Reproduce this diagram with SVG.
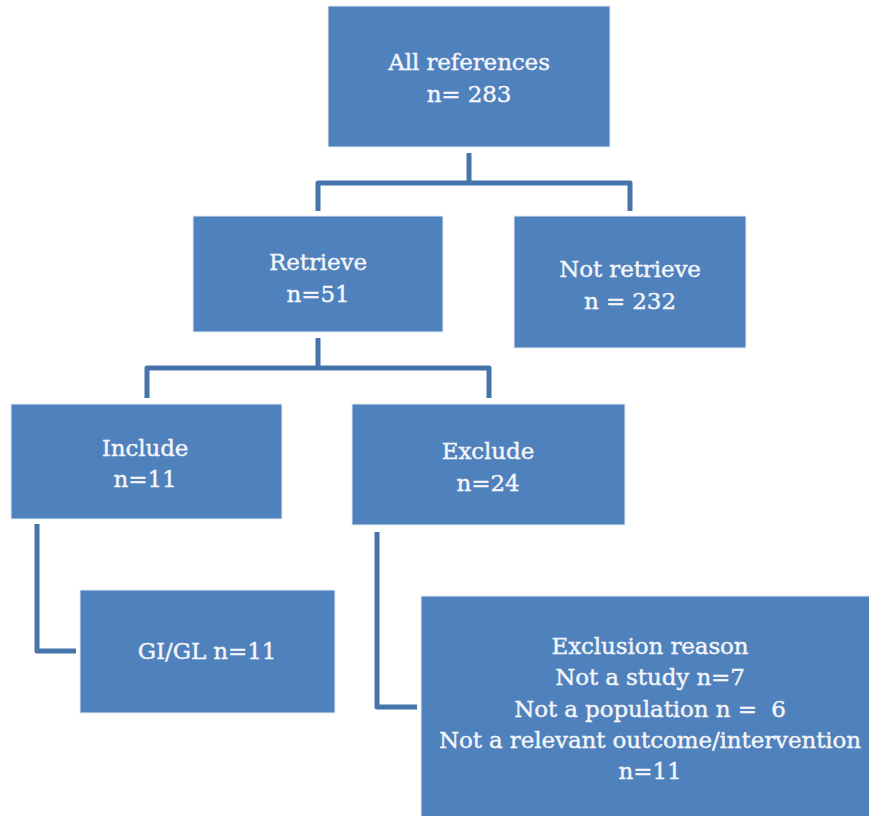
<svg xmlns="http://www.w3.org/2000/svg" width="869" height="816" viewBox="0 0 869 816">
  <style>
    .box { fill: #4F81BD; stroke: #E6EEF7; stroke-width: 1; }
    .lbl { font-family: "DejaVu Serif", "Liberation Serif", serif; font-size: 23px; fill: #F4F6FA; stroke: #F4F6FA; stroke-width: 0.4; text-anchor: middle; letter-spacing: -0.1px; }
    .wire { fill: none; stroke: #4474AA; stroke-width: 5; stroke-linejoin: round; }
  </style>
  <rect width="869" height="816" fill="#FFFFFF"/>

  <!-- connectors -->
  <g id="connectors">
    <path class="wire" d="M469,153 V183 M318,211 V183 H630 V211"/>
    <path class="wire" d="M318,338 V368 M147,398 V368 H489 V398"/>
    <path class="wire" d="M37,524 V651 H76"/>
    <path class="wire" d="M377,532 V707 H417"/>
  </g>

  <g id="all-references">
    <rect class="box" x="328" y="6" width="282" height="141"/>
    <text class="lbl" x="469" y="70">All references</text>
    <text class="lbl" x="469" y="102">n= 283</text>
  </g>

  <g id="retrieve">
    <rect class="box" x="193" y="216" width="250" height="116"/>
    <text class="lbl" x="318" y="270">Retrieve</text>
    <text class="lbl" x="318" y="302">n=51</text>
  </g>

  <g id="not-retrieve">
    <rect class="box" x="514" y="216" width="232" height="132"/>
    <text class="lbl" x="630" y="277">Not retrieve</text>
    <text class="lbl" x="630" y="309">n = 232</text>
  </g>

  <g id="include">
    <rect class="box" x="11" y="404" width="271" height="115"/>
    <text class="lbl" x="145" y="456">Include</text>
    <text class="lbl" x="145" y="487">n=11</text>
  </g>

  <g id="exclude">
    <rect class="box" x="352" y="404" width="273" height="121"/>
    <text class="lbl" x="488" y="459">Exclude</text>
    <text class="lbl" x="488" y="491">n=24</text>
  </g>

  <g id="gi-gl">
    <rect class="box" x="80" y="590" width="255" height="123"/>
    <text class="lbl" x="207" y="659">GI/GL n=11</text>
  </g>

  <g id="exclusion-reason">
    <rect class="box" x="421" y="596" width="452" height="224"/>
    <text class="lbl" x="650" y="654">Exclusion reason</text>
    <text class="lbl" x="650" y="685">Not a study n=7</text>
    <text class="lbl" x="650" y="717" xml:space="preserve">Not a population n =  6</text>
    <text class="lbl" x="650" y="748">Not a relevant outcome/intervention</text>
    <text class="lbl" x="650" y="779">n=11</text>
  </g>
</svg>
